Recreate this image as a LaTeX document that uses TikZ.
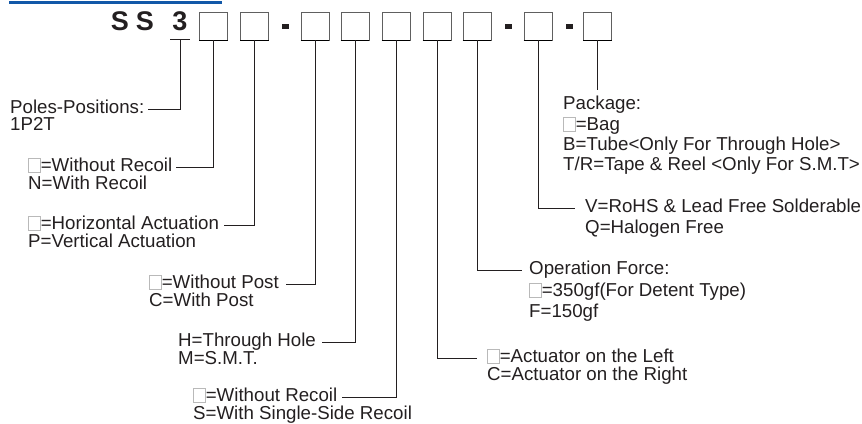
\documentclass[tikz,border=0pt]{standalone}
\usepackage{fontspec}
\setmainfont{Liberation Sans}
\definecolor{hdrblue}{RGB}{18,88,168}
\definecolor{ink}{RGB}{35,31,32}
\newcommand\sqb{{\color{gray!55}\setlength\fboxsep{0pt}\setlength\fboxrule{0.8pt}\fbox{\rule{0pt}{12.5pt}\hspace{11pt}}}}
\begin{document}
\begin{tikzpicture}[x=1pt,y=-1pt,
  pbox/.style={draw=gray!75!black,line width=0.9pt,minimum size=28pt,inner sep=0pt,fill=white},
  dashbox/.style={fill=ink,minimum width=7pt,minimum height=5pt,inner sep=0pt},
  title/.style={font=\fontsize{27}{27}\bfseries\selectfont,text=ink,inner sep=0pt,anchor=base},
  lab/.style={font=\fontsize{18.7}{20}\selectfont,text=ink,inner sep=0pt,text height=13.5pt,text depth=4pt,anchor=west},
  conn/.style={draw=ink,line width=0.9pt}]
\useasboundingbox (0,0) rectangle (862,423);
% header rule
\draw[hdrblue,line width=2.2pt] (9,2.5) -- (222,2.5);
% title
\node[title] (s1) at (120,30) {S};
\node[title] (s2) at (145,30) {S};
\node[title] (s3) at (180,30) {3};
\coordinate (u3) at (180,39.5);
\draw[ink,line width=1.2pt] ([xshift=-10pt]u3) -- ([xshift=10pt]u3);
% boxes
\foreach \n/\x in {b1/213.5,b2/254.5,b3/315,b4/355,b5/396,b6/437,b7/477,b8/538,b9/597.5}
  {\node[pbox] (\n) at (\x,26) {};
   \draw[black,line width=1.3pt] (\n.south west) -- (\n.south east);}
\node[dashbox] (d1) at (285.5,26) {};
\node[dashbox] (d2) at (508,26) {};
\node[dashbox] (d3) at (569.5,26) {};
% left labels
\node[lab] (L1) at (10,109) {Poles-Positions:};
\node[lab] (L1b) at (10,126) {1P2T};
\node[lab] (L2) at (28,167) {\sqb=Without Recoil};
\node[lab] (L2b) at (28,185) {N=With Recoil};
\node[lab] (L3) at (28,225) {\sqb=Horizontal Actuation};
\node[lab] (L3b) at (28,243) {P=Vertical Actuation};
\node[lab] (L4) at (149,284) {\sqb=Without Post};
\node[lab] (L4b) at (149,302) {C=With Post};
\node[lab] (L5) at (178,342) {H=Through Hole};
\node[lab] (L5b) at (178,360) {M=S.M.T.};
\node[lab] (L6) at (193,397) {\sqb=Without Recoil};
\node[lab] (L6b) at (193,415) {S=With Single-Side Recoil};
% right labels
\node[lab] (R6) at (487,358) {\sqb=Actuator on the Left};
\node[lab] (R6b) at (487,376) {C=Actuator on the Right};
\node[lab] (R7) at (529,270) {Operation Force:};
\node[lab] (R7b) at (529,292) {\sqb=350gf(For Detent Type)};
\node[lab] (R7c) at (529,313) {F=150gf};
\node[lab] (R8) at (585,208) {V=RoHS \& Lead Free Solderable};
\node[lab] (R8b) at (585,229) {Q=Halogen Free};
\node[lab] (R9) at (563,105) {Package:};
\node[lab] (R9b) at (563,126) {\sqb=Bag};
\node[lab] (R9c) at (563,146) {B=Tube<Only For Through Hole>};
\node[lab] (R9d) at (563,166) {T/R=Tape \& Reel <Only For S.M.T>};
\coordinate (c9) at (597.5,90);
% connectors
\draw[conn] (u3) |- ([xshift=4pt]L1.east);
\draw[conn] (b1.south) |- ([xshift=4pt]L2.east);
\draw[conn] (b2.south) |- ([xshift=5pt]L3.east);
\draw[conn] (b3.south) |- ([xshift=7pt]L4.east);
\draw[conn] (b4.south) |- ([xshift=6pt]L5.east);
\draw[conn] (b5.south) |- ([xshift=5pt]L6.east);
\draw[conn] (b6.south) |- ([xshift=-10pt]R6.west);
\draw[conn] (b7.south) |- ([xshift=-7pt]R7.west);
\draw[conn] (b8.south) |- ([xshift=-10pt]R8.west);
\draw[conn] (b9.south) -- (c9);
\end{tikzpicture}
\end{document}
